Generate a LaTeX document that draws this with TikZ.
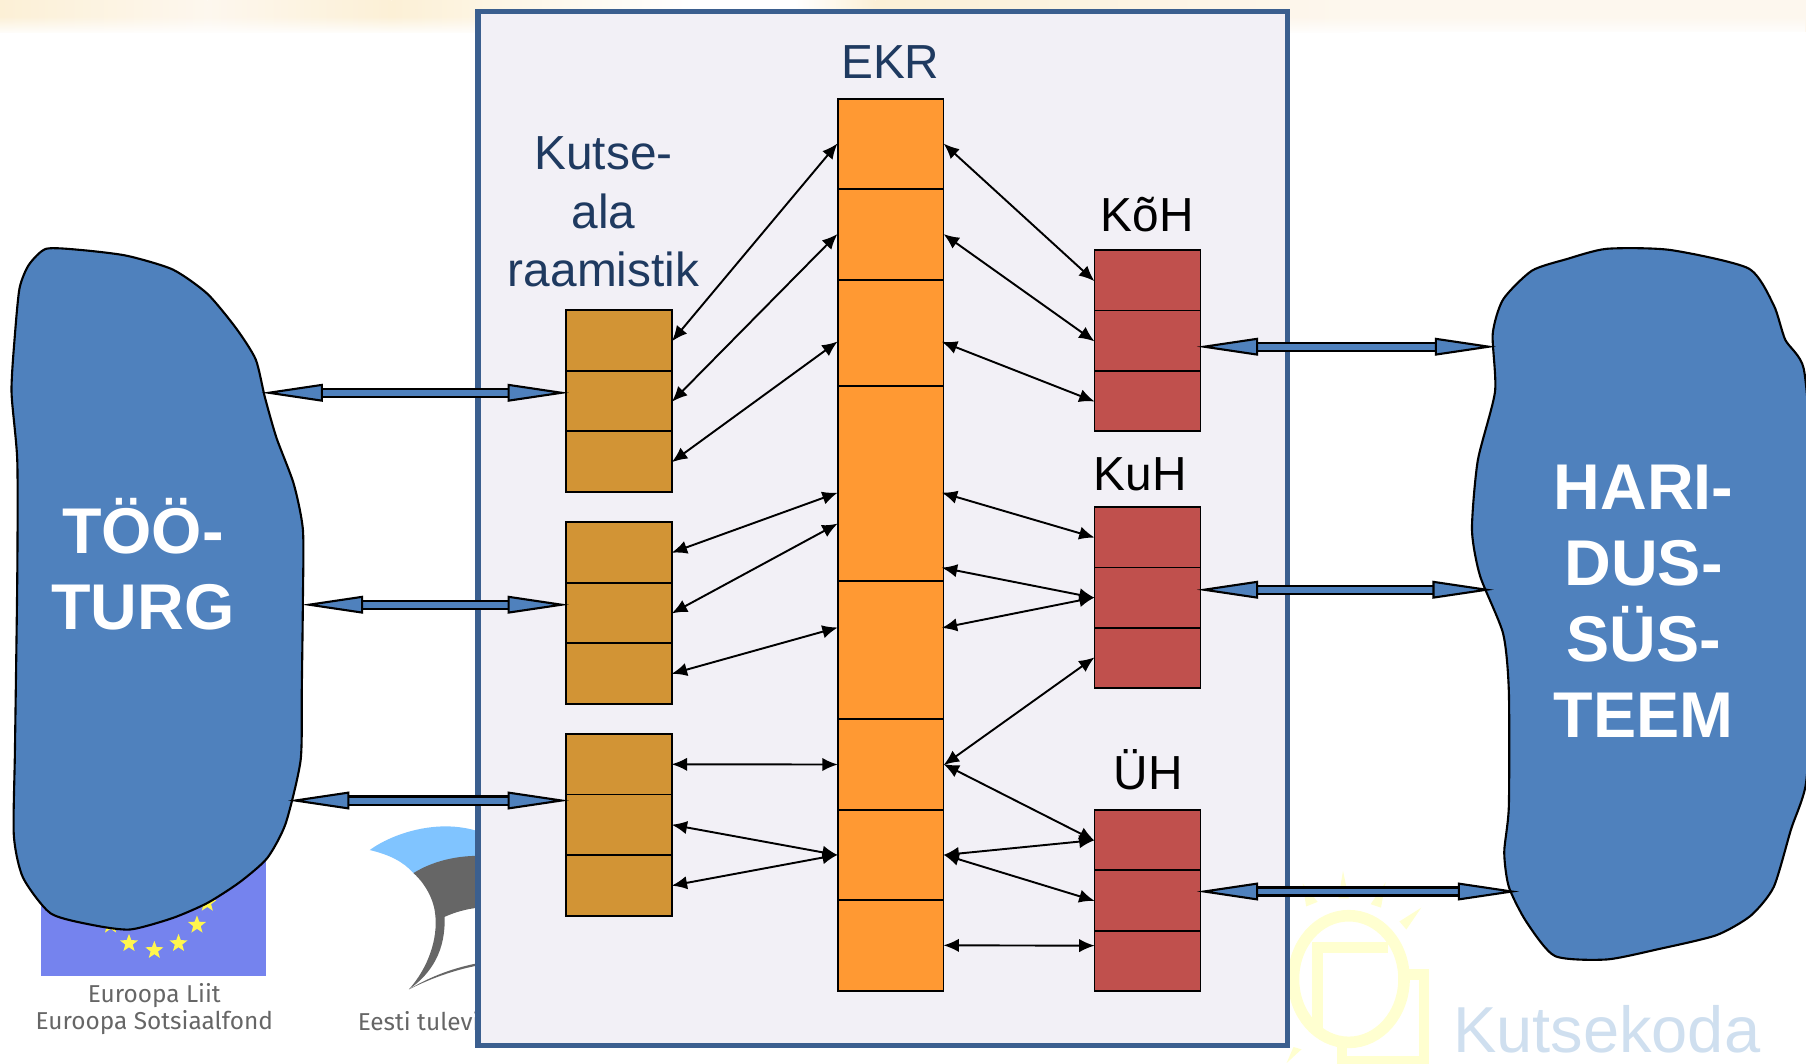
\documentclass[tikz,border=0pt]{standalone}
\usepackage{fontspec}
\setmainfont{Liberation Sans}
\newfontfamily\logofont{Fira Sans}
\usetikzlibrary{arrows,arrows.meta,fadings}
\usetikzlibrary{positioning,shapes.geometric}
\definecolor{blobblue}{HTML}{4F81BD}
\definecolor{panelfill}{HTML}{F2F0F6}
\definecolor{panelline}{HTML}{3B5F8F}
\definecolor{cellorange}{HTML}{FF9933}
\definecolor{cellochre}{HTML}{D29435}
\definecolor{cellred}{HTML}{C0504D}
\definecolor{textnavy}{HTML}{1F3A60}
\definecolor{flagblue}{HTML}{7583EE}
\definecolor{logogray}{HTML}{666666}
\definecolor{logosky}{HTML}{80C4FF}
\definecolor{sunyellow}{HTML}{FFFFD0}
\definecolor{kodablue}{HTML}{CFDFEF}
\definecolor{bandcream}{HTML}{FCF0D6}
\definecolor{bandpale}{HTML}{FDF7EE}
\tikzset{
  cell/.style={draw=black,line width=0.5pt,minimum width=92*0.11518mm,inner sep=0pt,anchor=north west},
  blob/.style={draw=black,line width=0.6pt,fill=blobblue},
  link/.style={{Latex[length=4.4pt,width=3.8pt]}-{Latex[length=4.4pt,width=3.8pt]},line width=0.55pt,shorten <=-0.3pt,shorten >=-0.3pt},
  bigarrow/.style={{Triangle[length=17.5pt,width=5pt,fill=blobblue,line width=0.6pt]}-{Triangle[length=17.5pt,width=5pt,fill=blobblue,line width=0.6pt]},
    line width=0.6pt,double=blobblue,double distance=1.7pt,shorten <=-1pt,shorten >=-1pt},
  bigtext/.style={text=white,align=center,font=\bfseries\fontsize{18.4}{21.7}\selectfont},
  headtext/.style={align=center,font=\fontsize{13.6}{16.7}\selectfont},
  eustar/.style={star,star points=5,star point ratio=2.4,fill=yellow!70!white,inner sep=0pt,minimum size=5.4pt}
}
\begin{document}
\begin{tikzpicture}[x=0.011518cm,y=-0.011518cm]
\useasboundingbox (0,0) rectangle (1568,923);
\shade[left color=bandcream,right color=bandpale] (0,0) rectangle (180,28);
\shade[left color=bandpale,right color=bandcream] (180,0) rectangle (340,28);
\shade[left color=bandcream,right color=white] (340,0) rectangle (600,28);
\fill[white] (600,0) rectangle (690,28);
\shade[left color=white,right color=bandcream] (690,0) rectangle (760,28);
\shade[left color=bandcream,right color=bandpale] (760,0) rectangle (1180,28);
\fill[bandpale] (1180,0) rectangle (1568,28);
\fill[white,path fading=north] (0,14) rectangle (1568,30);
% logos
\fill[flagblue] (36,730) rectangle (231,847);
\foreach \n/\a/\b in {1/112/819,2/134/825,3/155/819,4/171/803,5/96/803,6/180/784}
  \node[eustar] (star\n) at (\a,\b) {};
\node[text=logogray,align=center,font=\logofont\fontsize{6.95}{7.6}\selectfont] (eulabel) at (134,876) {Euroopa Liit\\Euroopa Sotsiaalfond};
\fill[logosky] (321,738) .. controls (340,724) and (380,710) .. (416,722) -- (416,745) -- (359,758) .. controls (350,748) and (338,742) .. (321,738);
\fill[logogray] (359,758) .. controls (375,748) and (395,743) .. (416,743) -- (416,788) .. controls (405,789) and (395,792) .. (386,796)
  .. controls (387,825) and (375,845) .. (355,859) .. controls (372,840) and (380,815) .. (378,795) .. controls (377,782) and (370,768) .. (359,758);
\fill[logogray] (355,859) .. controls (375,847) and (395,840) .. (416,836) -- (416,838) .. controls (395,842) and (375,849) .. (355,859);
\node[text=logogray,anchor=base west,inner sep=0pt,font=\logofont\fontsize{6.95}{8}\selectfont] (estlabel) at (310,895) {Eesti tulevi};
\draw[sunyellow,line width=3.3pt] (1171,850) ellipse (48 and 55);
\draw[sunyellow,line width=3pt] (1144,896) -- (1144,822.5) -- (1205,822.5);
\draw[sunyellow,line width=3pt] (1222,846) -- (1236.5,846) -- (1236.5,921) -- (1165,921) -- (1165,908);
\fill[sunyellow] (1166,756) -- (1162,780) -- (1171,780) -- cycle;
\fill[sunyellow] (1131,767) -- (1134,787) -- (1144,783) -- cycle;
\fill[sunyellow] (1203,766) -- (1190,785) -- (1199,788) -- cycle;
\fill[sunyellow] (1234,788) -- (1215,800) -- (1221,807) -- cycle;
\fill[sunyellow] (1130,911) -- (1123,909) -- (1117,923) -- cycle;
\node[text=kodablue,anchor=base west,inner sep=0pt,font=\fontsize{18.5}{22}\selectfont] (koda) at (1261,914) {Kutsekoda};
% blobs
\draw[blob] plot[smooth cycle,tension=0.4] coordinates {(40,216) (70,217) (110,222) (150,234) (180,255) (205,285) (222,312) (230,345) (240,380) (255,420) (263,460) (263,520) (262,600) (261,660) (248,715) (232,745) (208,766) (180,784) (150,797) (113,807) (80,803) (44,793) (20,762) (12,725) (13,650) (15,500) (15,400) (10,340) (13,290) (17,250) (25,230)};
\draw[blob] plot[smooth cycle,tension=0.4] coordinates {(1395,216) (1450,217) (1518,233) (1540,265) (1550,295) (1566,320) (1572,400) (1572,600) (1568,680) (1555,720) (1540,770) (1520,795) (1490,812) (1440,824) (1395,833) (1350,830) (1325,800) (1310,770) (1306,740) (1310,700) (1310,600) (1305,550) (1285,500) (1278,460) (1283,400) (1298,340) (1296,290) (1305,260) (1330,235) (1360,225)};
\node[bigtext] (tooturg) at (124,490) {TÖÖ-\\TURG};
\node[bigtext] (haridus) at (1427,522) {HARI-\\DUS-\\SÜS-\\TEEM};
% panel
\draw[draw=panelline,fill=panelfill,line width=1.5pt] (415,10) rectangle (1118,908);
\node[headtext,text=textnavy] (ekrlabel) at (773,54) {EKR};
\node[headtext,text=textnavy] (kutselabel) at (524,184) {Kutse-\\ala\\raamistik};
\node[headtext,text=black] (kohlabel) at (996,186) {KõH};
\node[headtext,text=black] (kuhlabel) at (990,412) {KuH};
\node[headtext,text=black] (uhlabel) at (997,668) {ÜH};
% columns
\foreach \a/\h [count=\i] in {85.5/78,163.5/79,242.5/92,334.5/169,503.5/120,623.5/79,702.5/78,780.5/79}
  \node[cell,fill=cellorange,minimum height=\h*0.11518mm] (ekr\i) at (726.5,\a) {};
\foreach \s/\a in {1/268.5,2/452.5,3/636.5}
  \foreach \c in {1,2,3}
    \node[cell,fill=cellochre,minimum height=52.6*0.11518mm] (kut\s\c) at (490.5,\a+\c*52.6-52.6) {};
\foreach \n/\a in {koh/216.5,kuh/439.5,uh/702.5}
  \foreach \c in {1,2,3}
    \node[cell,fill=cellred,minimum height=52.4*0.11518mm] (\n\c) at (949.5,\a+\c*52.4-52.4) {};
% free ends
\foreach \n/\b in {a/297,b/428,c/455,d/545}
  \coordinate (ekrl\n) at (726.5,\b);
\foreach \n/\b in {a/297,b/428,c/493,d/545}
  \coordinate (ekrr\n) at (818.5,\b);
\coordinate (uhlow) at (949.5,821);
\coordinate (tta) at (230,341);
\coordinate (ttb) at (265,525);
\coordinate (ttc) at (253,695);
\coordinate (kta) at (491,341);
\coordinate (ktb) at (491,525);
\coordinate (ktc) at (491,695);
\coordinate (hra) at (1296,301);
\coordinate (hrb) at (1294,512);
\coordinate (hrc) at (1316,774);
\coordinate (rsa) at (1042,301);
\coordinate (rsb) at (1042,512);
\coordinate (rsc) at (1042,774);
% links
\foreach \p/\q in {kut11/ekr1,kut12/ekr2,kut31/ekr6,kut32/ekr7,kut33/ekr7}
  \draw[link] (\p.east) -- (\q.west);
\foreach \p/\q in {kut13/ekrla,kut21/ekrlb,kut22/ekrlc,kut23/ekrld}
  \draw[link] (\p.east) -- (\q);
\foreach \p/\q in {ekr1/koh1,ekr2/koh2,ekr6/kuh3,ekr6/uh1,ekr7/uh1,ekr7/uh2}
  \draw[link] (\p.east) -- (\q.west);
\foreach \p/\q in {ekrra/koh3,ekrrb/kuh1,ekrrc/kuh2,ekrrd/kuh2}
  \draw[link] (\p) -- (\q.west);
\draw[link] (ekr8.east) -- (uhlow);
\foreach \p/\q in {tta/kta,ttb/ktb,ttc/ktc,rsa/hra,rsb/hrb,rsc/hrc}
  \draw[bigarrow] (\p) -- (\q);
\end{tikzpicture}
\end{document}
